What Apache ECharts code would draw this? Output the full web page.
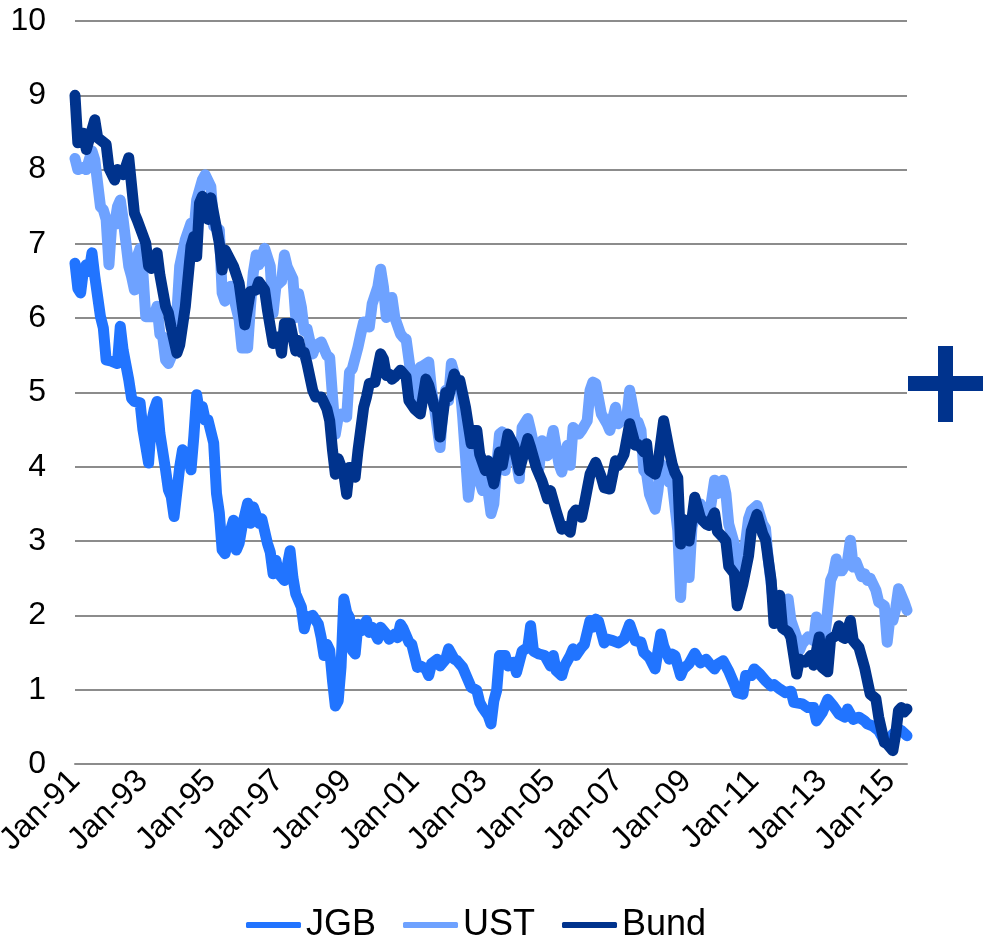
<!DOCTYPE html>
<html>
<head>
<meta charset="utf-8">
<script src="https://cdn.jsdelivr.net/npm/echarts@6/dist/echarts.min.js"></script>
<style>
html,body{margin:0;padding:0;background:#fff;}
#chart{width:983px;height:940px;}
</style>
</head>
<body>
<div id="chart"></div>
<script>
// x = months since Jan-1991, y = 10-year yield (%)
const startYear = 1991;
const lastMonth = 294;
const tickMonths = 24;
const yTicks = [0,1,2,3,4,5,6,7,8,9,10];

const jgb = [[0,6.74],[1,6.40],[2,6.34],[3,6.65],[4,6.72],[5,6.63],[6,6.88],[7,6.56],[9,6.02],[10,5.87],[11,5.44],[13,5.42],[15,5.39],[16,5.89],[17,5.57],[19,5.17],[20,4.92],[21,4.88],[23,4.86],[24,4.50],[26,4.05],[27,4.59],[28,4.77],[29,4.88],[30,4.45],[32,3.96],[33,3.69],[34,3.60],[35,3.33],[37,4.00],[38,4.23],[40,4.14],[41,3.96],[42,4.41],[43,4.97],[44,4.72],[45,4.81],[46,4.63],[47,4.63],[49,4.32],[50,3.64],[51,3.38],[52,2.88],[53,2.83],[55,3.15],[56,3.28],[57,2.88],[58,2.97],[59,3.19],[61,3.51],[62,3.24],[63,3.46],[65,3.24],[66,3.30],[68,2.97],[69,2.85],[70,2.56],[71,2.74],[72,2.56],[74,2.47],[76,2.87],[77,2.51],[78,2.29],[80,2.11],[81,1.82],[82,1.97],[84,2.00],[86,1.88],[87,1.70],[88,1.46],[89,1.61],[90,1.53],[91,1.12],[92,0.78],[93,0.85],[94,1.30],[95,2.22],[96,2.04],[97,1.97],[98,1.53],[99,1.48],[100,1.88],[101,1.79],[103,1.93],[104,1.77],[105,1.84],[107,1.68],[108,1.84],[110,1.75],[111,1.68],[113,1.75],[114,1.70],[115,1.88],[116,1.82],[118,1.64],[119,1.61],[121,1.30],[122,1.32],[124,1.28],[125,1.19],[126,1.35],[128,1.41],[129,1.32],[131,1.41],[132,1.55],[134,1.41],[135,1.39],[137,1.30],[138,1.21],[140,1.03],[142,0.99],[143,0.83],[144,0.76],[146,0.65],[147,0.54],[148,0.85],[149,0.99],[150,1.46],[152,1.46],[153,1.32],[155,1.37],[156,1.23],[158,1.52],[160,1.57],[161,1.86],[162,1.52],[164,1.48],[166,1.46],[168,1.32],[169,1.46],[170,1.26],[172,1.19],[173,1.32],[175,1.46],[176,1.55],[177,1.46],[179,1.57],[180,1.61],[182,1.93],[183,1.84],[184,1.95],[185,1.92],[187,1.63],[188,1.68],[190,1.66],[192,1.63],[194,1.68],[196,1.88],[198,1.66],[200,1.64],[201,1.50],[203,1.43],[205,1.28],[206,1.52],[207,1.75],[208,1.59],[210,1.41],[211,1.48],[212,1.46],[214,1.19],[215,1.28],[217,1.35],[219,1.49],[221,1.36],[223,1.41],[224,1.36],[226,1.28],[227,1.34],[229,1.39],[231,1.25],[233,1.07],[234,0.96],[236,0.94],[237,1.19],[239,1.19],[240,1.28],[242,1.21],[244,1.12],[246,1.05],[247,1.07],[249,1.01],[251,0.96],[253,0.98],[254,0.83],[257,0.81],[259,0.76],[261,0.76],[262,0.58],[264,0.69],[266,0.87],[268,0.78],[270,0.67],[272,0.63],[273,0.74],[275,0.60],[277,0.63],[279,0.58],[280,0.54],[282,0.51],[284,0.45],[286,0.31],[287,0.31],[289,0.40],[291,0.47],[292,0.45],[294,0.38]];

const ust = [[0,8.15],[1,8.00],[3,8.03],[4,8.00],[5,8.13],[6,8.25],[7,8.13],[9,7.50],[10,7.46],[11,7.33],[12,6.72],[13,7.28],[14,7.26],[15,7.50],[16,7.59],[17,7.33],[19,6.70],[20,6.56],[21,6.38],[22,6.83],[23,6.94],[24,6.61],[25,6.02],[27,6.02],[28,6.05],[29,6.16],[30,5.78],[31,5.75],[32,5.44],[33,5.39],[34,5.48],[36,6.07],[37,6.70],[39,7.06],[41,7.28],[42,7.15],[43,7.59],[45,7.86],[46,7.93],[48,7.77],[49,7.24],[51,7.19],[52,6.34],[53,6.23],[55,6.43],[56,6.29],[58,5.98],[59,5.60],[61,5.60],[62,6.16],[63,6.61],[64,6.85],[65,6.72],[67,6.94],[69,6.70],[70,6.07],[71,6.43],[73,6.50],[74,6.85],[75,6.69],[77,6.53],[78,6.01],[79,6.33],[80,6.15],[81,5.83],[82,5.86],[84,5.52],[85,5.63],[87,5.68],[89,5.50],[90,5.47],[91,4.94],[92,4.44],[93,4.67],[94,4.71],[96,4.67],[97,5.27],[98,5.32],[100,5.61],[101,5.79],[102,5.95],[104,5.88],[105,6.19],[107,6.42],[108,6.66],[109,6.42],[110,6.01],[111,6.19],[112,6.28],[113,6.01],[115,5.79],[116,5.74],[117,5.72],[119,5.16],[120,5.12],[121,4.89],[122,5.34],[123,5.36],[125,5.41],[126,5.03],[127,4.80],[129,4.26],[130,4.76],[131,5.03],[132,4.89],[133,5.39],[135,5.12],[136,5.12],[137,4.67],[138,4.13],[139,3.59],[141,4.17],[142,3.99],[143,3.81],[144,3.68],[145,3.95],[147,3.37],[148,3.50],[149,4.00],[150,4.44],[151,4.47],[152,3.95],[153,4.35],[155,4.29],[157,3.84],[158,4.53],[160,4.65],[161,4.49],[163,4.13],[164,3.99],[165,4.35],[167,4.15],[168,4.31],[169,4.49],[171,4.04],[172,3.93],[174,4.29],[175,4.02],[176,4.53],[178,4.44],[179,4.49],[181,4.62],[182,5.03],[183,5.14],[184,5.12],[186,4.71],[188,4.58],[189,4.49],[191,4.80],[192,4.58],[193,4.62],[195,4.67],[196,5.03],[198,4.62],[199,4.60],[200,4.49],[201,3.95],[202,3.90],[203,3.63],[205,3.43],[206,3.68],[207,4.04],[209,3.95],[210,3.79],[211,3.80],[213,3.14],[214,2.24],[215,2.96],[216,2.90],[217,2.51],[218,3.19],[220,3.45],[221,3.50],[223,3.37],[224,3.30],[226,3.82],[227,3.64],[229,3.82],[230,3.64],[231,3.23],[233,2.96],[234,2.20],[236,2.69],[238,3.30],[239,3.41],[241,3.48],[243,3.23],[244,3.17],[245,2.74],[247,2.11],[248,2.25],[250,2.07],[251,1.80],[252,2.22],[253,1.93],[255,1.71],[256,1.53],[257,1.62],[259,1.71],[261,1.66],[262,1.98],[263,1.84],[265,1.71],[267,2.47],[268,2.56],[269,2.76],[270,2.60],[271,2.60],[273,2.74],[274,3.01],[275,2.65],[276,2.72],[278,2.52],[279,2.56],[280,2.47],[281,2.50],[283,2.34],[284,2.18],[286,2.13],[287,1.64],[288,1.98],[289,1.93],[290,2.09],[291,2.36],[293,2.18],[294,2.07]];

const bund = [[0,9.00],[1,8.36],[3,8.49],[4,8.27],[7,8.67],[8,8.43],[11,8.34],[12,8.02],[14,7.86],[15,8.00],[17,7.93],[19,8.16],[21,7.41],[22,7.32],[25,7.01],[26,6.70],[27,6.67],[29,6.88],[30,6.58],[32,6.16],[33,6.07],[34,5.87],[36,5.53],[37,5.64],[39,6.16],[41,6.97],[42,7.10],[43,6.83],[44,7.55],[45,7.64],[47,7.33],[48,7.62],[49,7.41],[51,7.01],[52,6.65],[53,6.92],[56,6.70],[58,6.47],[60,5.91],[62,6.36],[64,6.38],[65,6.49],[67,6.38],[68,6.11],[70,5.66],[72,5.75],[73,5.53],[74,5.93],[76,5.93],[78,5.56],[79,5.70],[80,5.54],[81,5.54],[82,5.39],[84,5.03],[85,4.94],[87,4.94],[89,4.78],[90,4.62],[91,4.22],[92,3.90],[93,4.11],[95,3.90],[96,3.63],[97,3.99],[98,3.99],[99,3.86],[100,4.22],[102,4.80],[103,4.94],[104,5.12],[106,5.14],[108,5.52],[109,5.45],[110,5.23],[111,5.25],[112,5.18],[113,5.21],[115,5.30],[117,5.21],[118,4.89],[120,4.78],[122,4.71],[124,5.18],[125,5.10],[127,4.80],[128,4.78],[129,4.40],[131,5.00],[132,4.94],[134,5.25],[135,5.16],[136,5.16],[138,4.80],[140,4.31],[141,4.49],[142,4.49],[143,4.17],[145,3.95],[146,4.08],[148,3.77],[150,4.20],[151,4.02],[153,4.44],[155,4.29],[157,3.95],[160,4.38],[161,4.26],[163,3.99],[165,3.81],[167,3.57],[168,3.68],[170,3.41],[172,3.16],[173,3.20],[175,3.12],[176,3.37],[177,3.42],[179,3.32],[180,3.50],[182,3.90],[184,4.06],[186,3.86],[187,3.72],[189,3.70],[191,4.08],[192,4.02],[194,4.17],[196,4.58],[198,4.29],[199,4.30],[201,4.20],[202,4.31],[203,3.95],[205,3.90],[206,4.04],[208,4.62],[210,4.22],[211,4.04],[212,3.92],[213,3.85],[214,2.96],[215,3.29],[217,3.00],[219,3.59],[221,3.31],[223,3.23],[224,3.21],[226,3.38],[227,3.13],[229,3.05],[230,3.00],[231,2.66],[233,2.56],[234,2.13],[236,2.42],[238,2.80],[239,3.14],[241,3.36],[243,3.10],[244,3.02],[246,2.47],[247,1.89],[249,2.27],[250,1.83],[252,1.78],[253,1.70],[255,1.21],[256,1.41],[258,1.37],[260,1.46],[261,1.33],[263,1.71],[264,1.30],[266,1.24],[267,1.68],[269,1.73],[270,1.86],[271,1.71],[272,1.69],[274,1.93],[275,1.66],[277,1.57],[279,1.30],[281,0.94],[283,0.88],[284,0.63],[286,0.29],[287,0.27],[289,0.18],[290,0.40],[291,0.72],[292,0.76],[293,0.70],[294,0.74]];

const seriesNames = ['JGB','UST','Bund'];
const seriesData = [jgb, ust, bund];
const seriesColors = ['#2174FF','#6EA2FF','#00338D'];
const lineWidth = 11;

const FONT = '"Liberation Sans", Arial, sans-serif';
const chart = echarts.init(document.getElementById('chart'), null, {renderer:'canvas'});

function monthLabel(v){
  if (v % tickMonths !== 0) return '';
  const yr = (startYear + v/12) % 100;
  return 'Jan-' + (yr < 10 ? '0' + yr : String(yr));
}

chart.setOption({
  animation:false,
  backgroundColor:'#ffffff',
  grid:{left:75, right:76, top:21, bottom:176, containLabel:false, outerBoundsMode:'none'},
  xAxis:{
    type:'value', min:0, max:lastMonth, interval:tickMonths,
    axisLine:{show:true, lineStyle:{color:'#8c8c8c', width:2}},
    axisTick:{show:false},
    splitLine:{show:false},
    axisLabel:{rotate:45, margin:12, fontSize:32, color:'#000', fontFamily:FONT,
      showMaxLabel:false, formatter:monthLabel}
  },
  yAxis:{
    type:'value', min:yTicks[0], max:yTicks[yTicks.length-1], interval:1,
    axisLine:{show:false}, axisTick:{show:false},
    splitLine:{show:true, lineStyle:{color:'#8c8c8c', width:2}},
    axisLabel:{fontSize:32, color:'#000', fontFamily:FONT, margin:29}
  },
  legend:{
    data:seriesNames, left:241, top:902, itemWidth:55, itemHeight:6, itemGap:27,
    icon:'roundRect',
    textStyle:{fontSize:36, color:'#000', fontFamily:FONT}
  },
  series: seriesNames.map((n,i)=>({
    name:n, type:'line', data:seriesData[i], symbol:'none', showSymbol:false,
    lineStyle:{color:seriesColors[i], width:lineWidth, cap:'round', join:'round'},
    emphasis:{disabled:true},
    itemStyle:{color:seriesColors[i]}, z:2+i
  })),
  graphic:[
    {type:'rect', shape:{x:908, y:376, width:75, height:15}, style:{fill:'#00338D'}},
    {type:'rect', shape:{x:938, y:346, width:15, height:76}, style:{fill:'#00338D'}}
  ]
});
</script>
</body>
</html>
